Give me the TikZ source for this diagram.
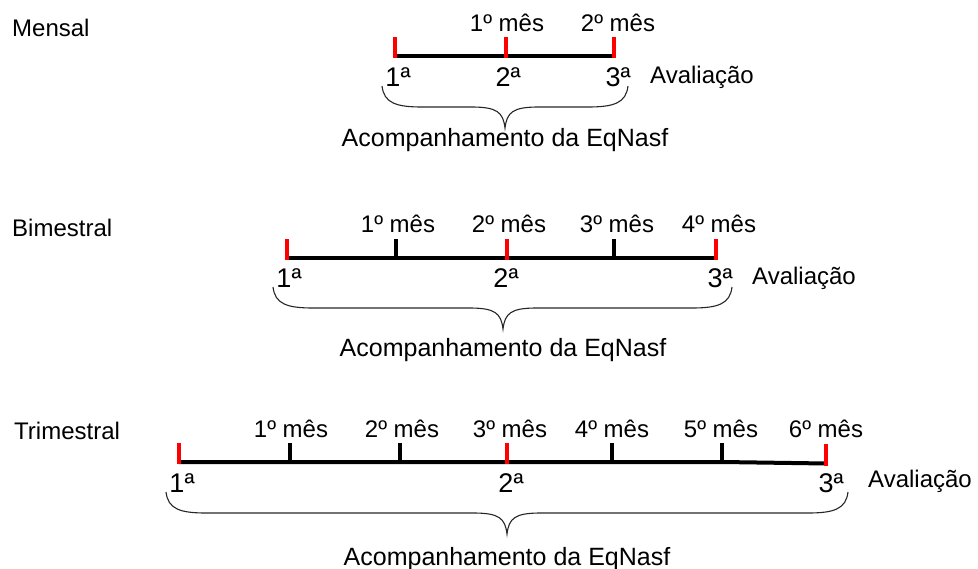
\documentclass[tikz,border=0pt]{standalone}
\usepackage{fontspec}
\setmainfont{Liberation Sans}
\begin{document}
\begin{tikzpicture}[x=1pt,y=-1pt,
  lbl/.style={font=\fontsize{24}{28}\selectfont, inner sep=0pt, anchor=base},
  ttl/.style={lbl, anchor=base west},
  acc/.style={lbl, font=\fontsize{25}{29}\selectfont},
  ord/.style={font=\fontsize{27}{30}\selectfont, inner sep=0pt, anchor=base},
  axisline/.style={line width=4pt, black},
  evaltick/.style={line width=3.5pt, red},
  monthtick/.style={line width=3.5pt, black},
  brc/.style={line width=1.1pt, black!85},
]
\useasboundingbox (0,0) rectangle (978,569);

% curly brace under a time line: left x, centre x, right x, top y
\newcommand\followbrace[4]{%
  \draw[brc] (#1,#4) .. controls ({#1+2},{#4+17}) and ({#1+14},{#4+21}) .. ({#1+40},{#4+21})
    -- ({#2-34},{#4+21}) .. controls ({#2-8},{#4+21}) and ({#2-2},{#4+26}) .. (#2,{#4+42})
    .. controls ({#2+2},{#4+26}) and ({#2+8},{#4+21}) .. ({#2+34},{#4+21})
    -- ({#3-40},{#4+21}) .. controls ({#3-14},{#4+21}) and ({#3-2},{#4+17}) .. (#3,#4);}

% ---------------- Mensal ----------------
\node[ttl] (m-title) at (12,37) {Mensal};
\coordinate (m-t1) at (395,56);
\coordinate (m-t2) at (506,56);
\coordinate (m-t3) at (614,56);
\draw[axisline] (m-t1) -- (m-t3);
\foreach \t in {m-t1,m-t2,m-t3}
  \draw[evaltick] ([yshift=-2pt]\t) -- ++(0,-21);
\node[lbl] (m-m1) at (507,32) {1º mês};
\node[lbl] (m-m2) at (618,32) {2º mês};
\node[ord] (m-a1) at (398,87) {1ª};
\node[ord] (m-a2) at (508,87) {2ª};
\node[ord] (m-a3) at (618,87) {3ª};
\node[lbl, anchor=base west] (m-av) at (650,84) {Avaliação};
\followbrace{382}{505}{628}{86}
\node[acc] (m-acc) at (505,147) {Acompanhamento da EqNasf};

% ---------------- Bimestral ----------------
\node[ttl] (b-title) at (12,237) {Bimestral};
\coordinate (b-t1) at (287,258);
\coordinate (b-t2) at (396,258);
\coordinate (b-t3) at (507,258);
\coordinate (b-t4) at (614,258);
\coordinate (b-t5) at (716,258);
\draw[axisline] (b-t1) -- (b-t5);
\foreach \t in {b-t1,b-t3,b-t5}
  \draw[evaltick] ([yshift=-2pt]\t) -- ++(0,-21);
\foreach \t in {b-t2,b-t4}
  \draw[monthtick] ([yshift=-2pt]\t) -- ++(0,-21);
\node[lbl] (b-m1) at (398,233) {1º mês};
\node[lbl] (b-m2) at (509,233) {2º mês};
\node[lbl] (b-m3) at (617,233) {3º mês};
\node[lbl] (b-m4) at (719,233) {4º mês};
\node[ord] (b-a1) at (289,288) {1ª};
\node[ord] (b-a2) at (506,288) {2ª};
\node[ord] (b-a3) at (720,288) {3ª};
\node[lbl, anchor=base west] (b-av) at (752,285) {Avaliação};
\followbrace{273}{503}{732}{287}
\node[acc] (b-acc) at (503,357) {Acompanhamento da EqNasf};

% ---------------- Trimestral ----------------
\node[ttl] (t-title) at (14,439) {Trimestral};
\coordinate (t-t1) at (179,462);
\coordinate (t-t2) at (290,462);
\coordinate (t-t3) at (400,462);
\coordinate (t-t4) at (507,462);
\coordinate (t-t5) at (612,462);
\coordinate (t-t6) at (722,462);
\coordinate (t-t7) at (826,463.5);
\draw[axisline] (t-t1) -- (t-t6) -- (t-t7);
\foreach \t in {t-t1,t-t4,t-t7}
  \draw[evaltick] ([yshift=-2pt]\t) -- ++(0,-21);
\foreach \t in {t-t2,t-t3,t-t5,t-t6}
  \draw[monthtick] ([yshift=-2pt]\t) -- ++(0,-21);
\node[lbl] (t-m1) at (291,438) {1º mês};
\node[lbl] (t-m2) at (402,438) {2º mês};
\node[lbl] (t-m3) at (510,438) {3º mês};
\node[lbl] (t-m4) at (612,438) {4º mês};
\node[lbl] (t-m5) at (721,438) {5º mês};
\node[lbl] (t-m6) at (826,438) {6º mês};
\node[ord] (t-a1) at (182,492) {1ª};
\node[ord] (t-a2) at (511,492) {2ª};
\node[ord] (t-a3) at (831,492) {3ª};
\node[lbl, anchor=base west] (t-av) at (868,487) {Avaliação};
\followbrace{166}{507}{848}{492}
\node[acc] (t-acc) at (507,565) {Acompanhamento da EqNasf};
\end{tikzpicture}
\end{document}
